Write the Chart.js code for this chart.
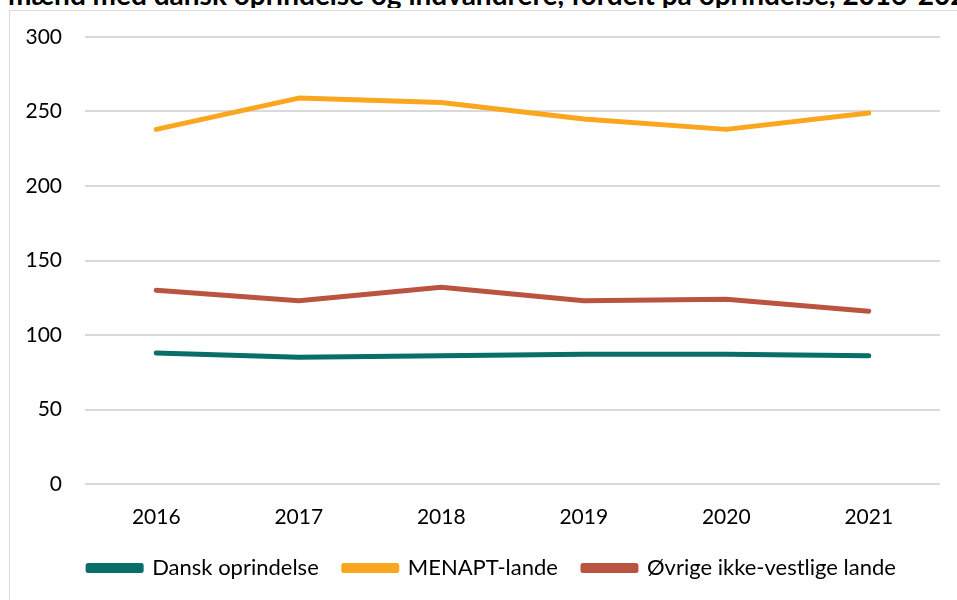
<!DOCTYPE html>
<html lang="da">
<head>
<meta charset="UTF-8">
<title>Oprindelse 2016-2021</title>
<script src="https://cdn.jsdelivr.net/npm/chart.js"></script>
<style>
  html, body { margin: 0; padding: 0; background: #fff; overflow: hidden; }
  body { width: 957px; height: 600px; position: relative; }
  .title {
    position: absolute; left: 8px; top: -20px; width: 949px;
    font: bold 28px/28px Lato, sans-serif; color: #000;
    white-space: nowrap; overflow: hidden;
  }
  .frame {
    position: absolute; left: 9px; top: 10px; width: 1000px; height: 700px;
    border: 1px solid #d9d9d9; box-sizing: border-box;
  }
  .chart-box { position: absolute; left: 0; top: 0; width: 957px; height: 600px; }
</style>
</head>
<body>
<div class="title">mænd med dansk oprindelse og indvandrere, fordelt på oprindelse, 2016-2021</div>
<div class="frame"></div>
<div class="chart-box"><canvas id="lineChart"></canvas></div>

<script>
// data
const years = ['2016', '2017', '2018', '2019', '2020', '2021'];
const danskOprindelse = [88, 85, 86, 87, 87, 86];
const menaptLande = [238, 259, 256, 245, 238, 249];
const oevrigeIkkeVestlige = [130, 123, 132, 123, 124, 116];
const yTicks = [0, 50, 100, 150, 200, 250, 300];

const green = '#086e68';
const yellow = '#faa61e';
const red = '#ba5441';

function series(label, values, color) {
    return {
        label: label,
        data: values,
        borderColor: color,
        backgroundColor: color,
        borderWidth: 5,
        borderCapStyle: 'round',
        borderJoinStyle: 'round',
        pointRadius: 0,
        pointHoverRadius: 0,
        tension: 0
    };
}

// legend in the original sits a bit right of centre
const legendShift = {
    id: 'legendShift',
    afterLayout(chart) {
        chart.legend.left += 22;
        chart.legend.right += 22;
    }
};

Chart.defaults.font.family = 'Lato, sans-serif';
Chart.defaults.font.size = 21;
Chart.defaults.color = '#000';

new Chart(document.getElementById('lineChart'), {
    type: 'line',
    data: {
        labels: years,
        datasets: [
            series('Dansk oprindelse', danskOprindelse, green),
            series('MENAPT-lande', menaptLande, yellow),
            series('Øvrige ikke-vestlige lande', oevrigeIkkeVestlige, red)
        ]
    },
    plugins: [legendShift],
    options: {
        responsive: true,
        maintainAspectRatio: false,
        animation: false,
        layout: { padding: { left: 0, right: 17, top: 37, bottom: 11 } },
        plugins: {
            tooltip: { enabled: false },
            legend: {
                position: 'bottom',
                labels: {
                    boxWidth: 53,
                    boxHeight: 5,
                    padding: 25,
                    color: '#000',
                    font: { size: 22 }
                }
            }
        },
        scales: {
            x: {
                offset: true,
                grid: { display: false, drawTicks: false },
                border: { display: false },
                ticks: { padding: 21, maxRotation: 0 },
                afterFit: scale => { scale.height = 48; }
            },
            y: {
                min: 0,
                max: 300,
                afterBuildTicks: scale => { scale.ticks = yTicks.map(v => ({ value: v })); },
                grid: { color: '#d9d9d9', lineWidth: 2, drawTicks: false },
                border: { display: false },
                ticks: { padding: 23 },
                afterFit: scale => { scale.width = 85; }
            }
        }
    }
});
</script>
</body>
</html>
